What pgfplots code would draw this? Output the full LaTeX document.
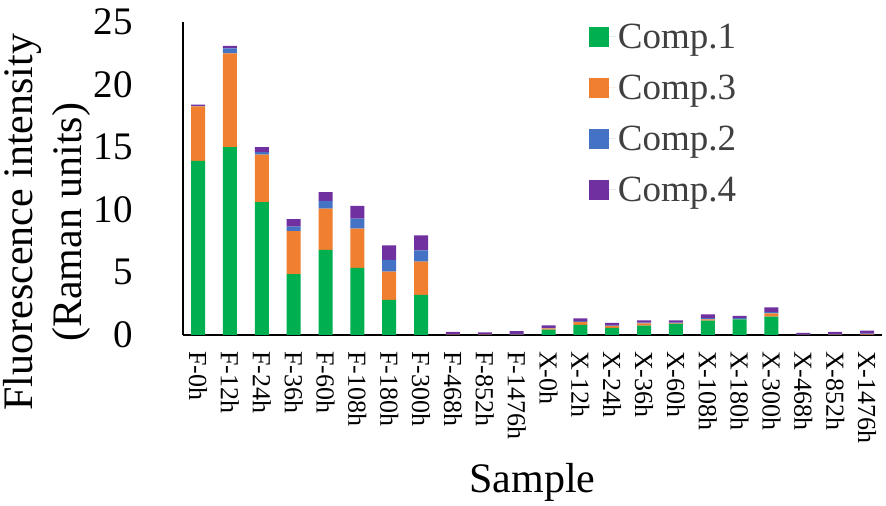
\documentclass[border=0pt]{standalone}
\usepackage{fontspec}
\setmainfont{Liberation Serif}
\usepackage{pgfplots}
\usepackage{pgfplotstable}
\pgfplotsset{compat=1.18}
\definecolor{cgreen}{HTML}{00B050}
\definecolor{corange}{HTML}{F08030}
\definecolor{cblue}{HTML}{4472C4}
\definecolor{cpurple}{HTML}{7030A0}
\definecolor{legendgray}{HTML}{404040}
\pgfplotstableread{
x  c1    c3    c2    c4
0  13.9  4.35  0.05  0.10
1  15.0  7.50  0.40  0.20
2  10.6  3.80  0.20  0.40
3  4.85  3.45  0.35  0.60
4  6.80  3.30  0.60  0.70
5  5.35  3.15  0.80  1.00
6  2.80  2.25  0.95  1.15
7  3.20  2.65  0.90  1.20
8  0.00  0.02  0.03  0.20
9  0.00  0.02  0.03  0.15
10 0.00  0.03  0.05  0.22
11 0.42  0.10  0.05  0.20
12 0.80  0.24  0.06  0.23
13 0.56  0.16  0.05  0.19
14 0.74  0.19  0.05  0.19
15 0.88  0.05  0.05  0.19
16 1.14  0.10  0.10  0.30
17 1.25  0.02  0.08  0.18
18 1.46  0.27  0.10  0.37
19 0.00  0.01  0.02  0.13
20 0.00  0.02  0.05  0.17
21 0.00  0.05  0.05  0.25
}\data
\begin{document}
\begin{tikzpicture}
\begin{axis}[
  scale only axis,
  width=699pt, height=313pt,
  ybar stacked, bar width=14pt,
  xmin=-0.47, xmax=21.47,
  ymin=0, ymax=25,
  axis x line=bottom, axis y line=left,
  axis line style={-, line width=1.5pt, black},
  major tick length=0pt,
  xtick={0,...,21},
  xticklabels={F-0h,F-12h,F-24h,F-36h,F-60h,F-108h,F-180h,F-300h,F-468h,F-852h,F-1476h,X-0h,X-12h,X-24h,X-36h,X-60h,X-108h,X-180h,X-300h,X-468h,X-852h,X-1476h},
  xticklabel style={rotate=-90, anchor=west, inner sep=0pt, font=\fontsize{26}{26}\selectfont},
  xticklabel shift=16pt,
  ytick={0,5,10,15,20,25},
  /pgf/number format/assume math mode=true,
  yticklabel style={font=\fontsize{39}{39}\selectfont, inner sep=0pt},
  yticklabel shift=50pt,
  xlabel={Sample},
  xlabel style={font=\fontsize{42}{42}\selectfont, at={(axis description cs:0.5,-0.505)}, anchor=base},
  ylabel={Fluorescence intensity\\(Raman units)},
  ylabel style={font=\fontsize{42}{49}\selectfont, align=center, at={(axis description cs:-0.195,0.36)}, anchor=center},
  legend image code/.code={\fill[#1] (0pt,-10pt) rectangle (20pt,10pt); \path (0pt,0pt) -- (27pt,0pt);},
  legend style={draw=none, fill=none, at={(axis description cs:0.576,1.007)}, anchor=north west,
    font=\fontsize{37}{37}\selectfont, text=legendgray, row sep=21pt,
    nodes={inner sep=2pt}},
  legend cell align=left,
]
\addplot[fill=cgreen, draw=none] table[x=x, y=c1] {\data};
\addplot[fill=corange, draw=none] table[x=x, y=c3] {\data};
\addplot[fill=cblue, draw=none] table[x=x, y=c2] {\data};
\addplot[fill=cpurple, draw=none] table[x=x, y=c4] {\data};
\legend{Comp.1, Comp.3, Comp.2, Comp.4}
\end{axis}
\path (current axis.south west) ++(-183pt,-164pt) rectangle ++(886pt,499pt);
\end{tikzpicture}
\end{document}
